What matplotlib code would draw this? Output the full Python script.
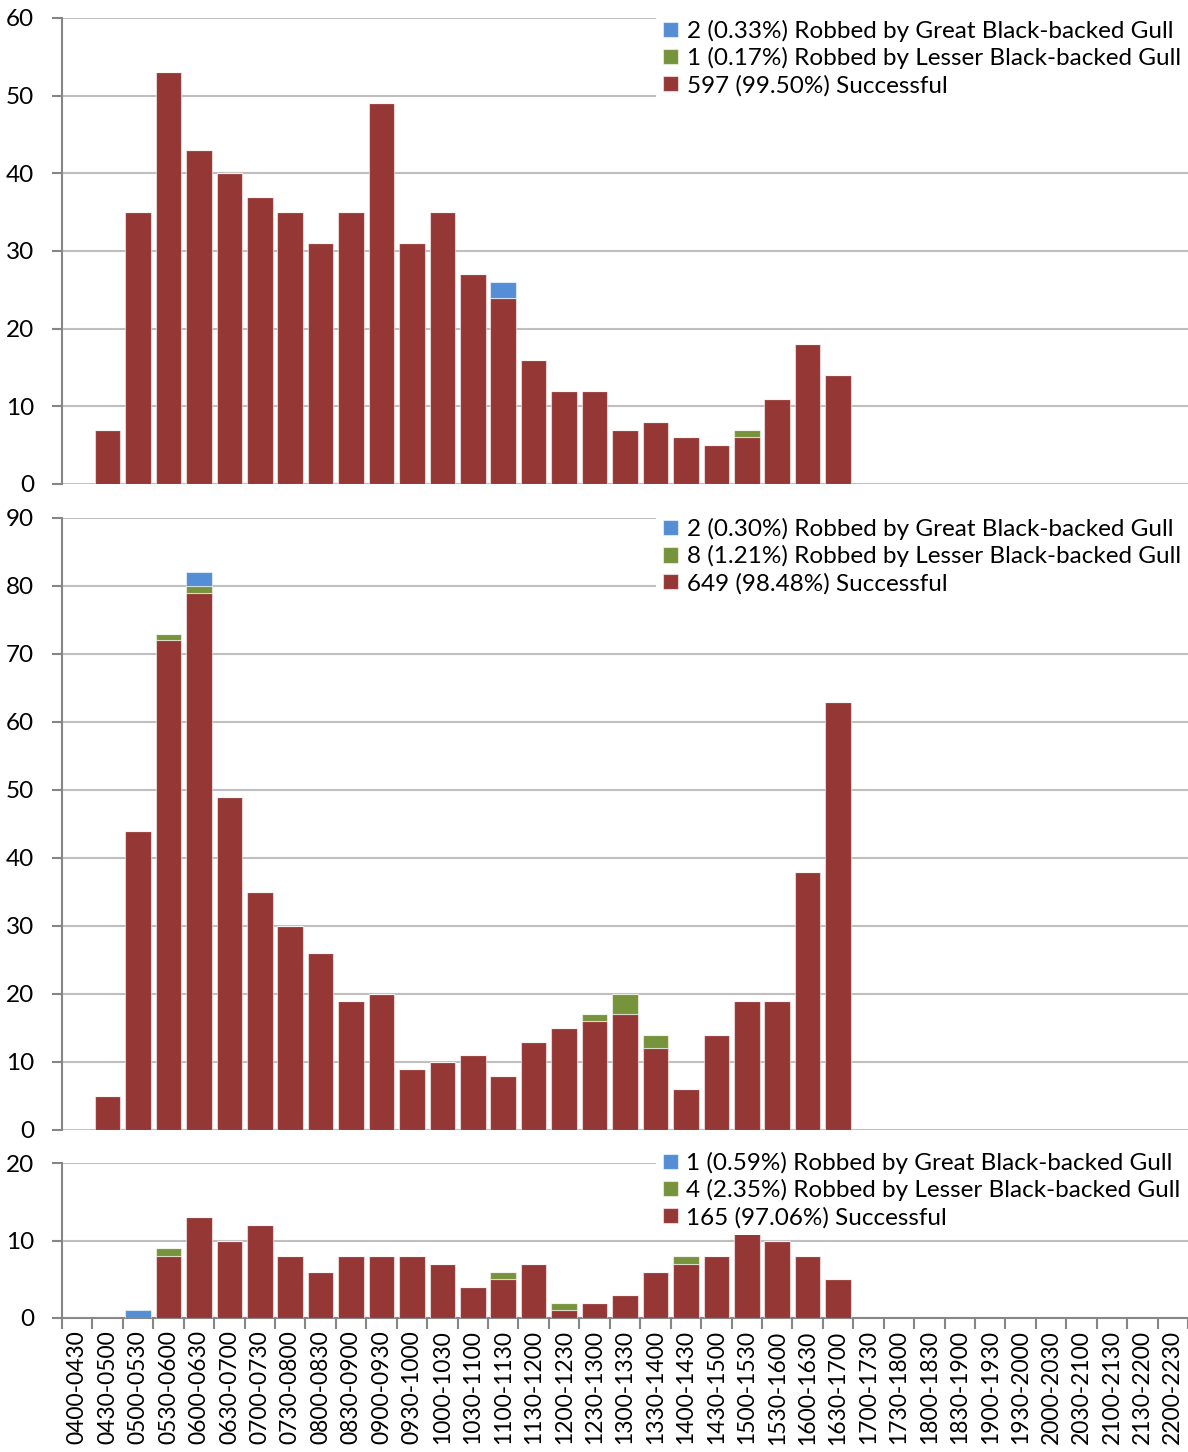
import matplotlib.pyplot as plt
import numpy as np

plt.rcParams['font.family'] = ['Lato', 'DejaVu Sans']

slots = ['0400-0430', '0430-0500', '0500-0530', '0530-0600', '0600-0630', '0630-0700',
         '0700-0730', '0730-0800', '0800-0830', '0830-0900', '0900-0930', '0930-1000',
         '1000-1030', '1030-1100', '1100-1130', '1130-1200', '1200-1230', '1230-1300',
         '1300-1330', '1330-1400', '1400-1430', '1430-1500', '1500-1530', '1530-1600',
         '1600-1630', '1630-1700', '1700-1730', '1730-1800', '1800-1830', '1830-1900',
         '1900-1930', '1930-2000', '2000-2030', '2030-2100', '2100-2130', '2130-2200',
         '2200-2230']

# panel 1
succ1 = [0, 7, 35, 53, 43, 40, 37, 35, 31, 35, 49, 31, 35, 27, 24, 16, 12, 12, 7, 8, 6, 5, 6, 11, 18, 14]
lbbg1 = [0, 0, 0, 0, 0, 0, 0, 0, 0, 0, 0, 0, 0, 0, 0, 0, 0, 0, 0, 0, 0, 0, 1, 0, 0, 0]
gbbg1 = [0, 0, 0, 0, 0, 0, 0, 0, 0, 0, 0, 0, 0, 0, 2, 0, 0, 0, 0, 0, 0, 0, 0, 0, 0, 0]
labels1 = ['2 (0.33%) Robbed by Great Black-backed Gull',
           '1 (0.17%) Robbed by Lesser Black-backed Gull',
           '597 (99.50%) Successful']

# panel 2
succ2 = [0, 5, 44, 72, 79, 49, 35, 30, 26, 19, 20, 9, 10, 11, 8, 13, 15, 16, 17, 12, 6, 14, 19, 19, 38, 63]
lbbg2 = [0, 0, 0, 1, 1, 0, 0, 0, 0, 0, 0, 0, 0, 0, 0, 0, 0, 1, 3, 2, 0, 0, 0, 0, 0, 0]
gbbg2 = [0, 0, 0, 0, 2, 0, 0, 0, 0, 0, 0, 0, 0, 0, 0, 0, 0, 0, 0, 0, 0, 0, 0, 0, 0, 0]
labels2 = ['2 (0.30%) Robbed by Great Black-backed Gull',
           '8 (1.21%) Robbed by Lesser Black-backed Gull',
           '649 (98.48%) Successful']

# panel 3
succ3 = [0, 0, 0, 8, 13, 10, 12, 8, 6, 8, 8, 8, 7, 4, 5, 7, 1, 2, 3, 6, 7, 8, 11, 10, 8, 5]
lbbg3 = [0, 0, 0, 1, 0, 0, 0, 0, 0, 0, 0, 0, 0, 0, 1, 0, 1, 0, 0, 0, 1, 0, 0, 0, 0, 0]
gbbg3 = [0, 0, 1, 0, 0, 0, 0, 0, 0, 0, 0, 0, 0, 0, 0, 0, 0, 0, 0, 0, 0, 0, 0, 0, 0, 0]
labels3 = ['1 (0.59%) Robbed by Great Black-backed Gull',
           '4 (2.35%) Robbed by Lesser Black-backed Gull',
           '165 (97.06%) Successful']

c_succ = '#953735'
c_lbbg = '#77933C'
c_gbbg = '#558ED5'
grid_c = '#BFBFBF'
axis_c = '#868686'

fig = plt.figure(figsize=(11.88, 14.52), dpi=100)
W, H = 1188, 1452


def box(top, bottom):
    return [62 / W, 1 - bottom / H, 1 - 62 / W, (bottom - top) / H]


def panel(rect, succ, lbbg, gbbg, labels, ymax, yticks, show_x, leg_anchor):
    ax = fig.add_axes(rect)
    x = np.arange(len(succ))
    s = np.array(succ)
    l = np.array(lbbg)
    g = np.array(gbbg)
    kw = dict(width=0.84, edgecolor=(1, 1, 1, 0.55), linewidth=0.8, zorder=3)
    b1 = ax.bar(x, s, color=c_succ, **kw)
    b2 = ax.bar(x, l, bottom=s, color=c_lbbg, **kw)
    b3 = ax.bar(x, g, bottom=s + l, color=c_gbbg, **kw)
    ax.set_xlim(-0.5, len(slots) - 0.5)
    ax.set_ylim(0, ymax)
    ax.set_yticks(yticks)
    ax.yaxis.grid(True, color=grid_c, linewidth=1.5, zorder=0)
    ax.set_axisbelow(True)
    for sp in ['top', 'right']:
        ax.spines[sp].set_visible(False)
    ax.spines['left'].set_color(axis_c)
    ax.spines['left'].set_linewidth(1.5)
    ax.tick_params(axis='y', length=7, width=1.5, color=axis_c, labelsize=17.5, pad=13)
    if show_x:
        ax.spines['bottom'].set_color(axis_c)
        ax.spines['bottom'].set_linewidth(1.5)
        ax.set_xticks(np.arange(len(slots)))
        ax.set_xticklabels(slots, rotation=90, fontsize=16.5)
        ax.set_xticks(np.arange(len(slots) + 1) - 0.5, minor=True)
        ax.tick_params(axis='x', which='major', length=0, pad=9)
        ax.tick_params(axis='x', which='minor', length=8, width=1.5, color=axis_c)
    else:
        ax.spines['bottom'].set_visible(False)
        ax.set_xticks([])
    leg = ax.legend([b3, b2, b1], labels, loc='upper right', bbox_to_anchor=leg_anchor,
                    fontsize=17.5, frameon=True, fancybox=False, framealpha=1,
                    edgecolor='none', facecolor='white', handlelength=0.6,
                    handleheight=0.6, handletextpad=0.35, labelspacing=0.22,
                    borderpad=0.3, borderaxespad=0)
    leg.set_zorder(5)
    return ax


panel(box(18, 484), succ1, lbbg1, gbbg1, labels1, 60, range(0, 61, 10), False, (1.0, 1.012))
panel(box(518, 1130), succ2, lbbg2, gbbg2, labels2, 90, range(0, 91, 10), False, (1.0, 1.012))
panel(box(1163, 1318), succ3, lbbg3, gbbg3, labels3, 20, [0, 10, 20], True, (1.0, 1.12))

fig.savefig('out.png', dpi=100)
